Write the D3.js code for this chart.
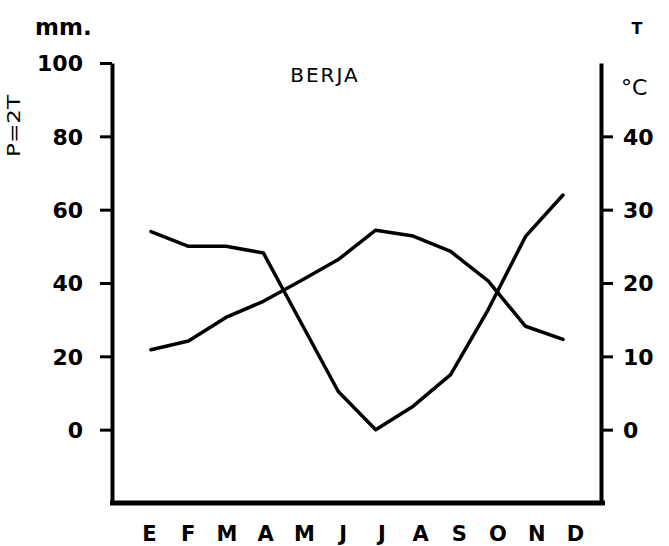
<!DOCTYPE html>
<html>
<head>
<meta charset="utf-8">
<script src="https://cdn.jsdelivr.net/npm/d3@7"></script>
<style>
  body { margin: 0; background: #fff; }
  text { font-family: "DejaVu Sans", sans-serif; fill: #000; }
</style>
</head>
<body>
<div id="chart"></div>
<script>
const months = ['E', 'F', 'M', 'A', 'M', 'J', 'J', 'A', 'S', 'O', 'N', 'D'];
// precipitation, mm (left axis)
const precip = [54, 50, 50, 48.2, 29.3, 10.4, 0, 6.4, 15, 32.7, 52.7, 64];
// temperature, degrees C (right axis, P = 2T)
const temp = [10.9, 12.1, 15.3, 17.5, 20.3, 23.2, 27.2, 26.4, 24.3, 20.3, 14.1, 12.3];

const leftTicks = [0, 20, 40, 60, 80, 100];
const rightTicks = [0, 10, 20, 30, 40];

const width = 669;
const height = 546;

const svg = d3.select('#chart')
  .append('svg')
  .attr('width', width)
  .attr('height', height);

const x = d3.scalePoint()
  .domain(d3.range(months.length))
  .range([151, 563]);

// month letters sit a bit wider than the data points
const xLabel = d3.scalePoint()
  .domain(d3.range(months.length))
  .range([149, 575]);

const yP = d3.scaleLinear().domain([-20, 100]).range([503, 63]);
const yT = d3.scaleLinear().domain([-10, 50]).range([503, 63]);

const left = 112;
const right = 601;

// left axis
const leftAxis = svg.append('g')
  .attr('transform', `translate(${left},0)`)
  .call(d3.axisLeft(yP).tickValues(leftTicks).tickSize(12).tickSizeOuter(0).tickPadding(17));

// right axis
const rightAxis = svg.append('g')
  .attr('transform', `translate(${right},0)`)
  .call(d3.axisRight(yT).tickValues(rightTicks).tickSize(12).tickSizeOuter(0).tickPadding(10));

[leftAxis, rightAxis].forEach(g => {
  g.select('.domain').attr('stroke', '#000').attr('stroke-width', 4);
  g.selectAll('.tick line').attr('stroke', '#000').attr('stroke-width', 3);
  g.selectAll('.tick text')
    .style('font-size', '22px')
    .style('font-weight', 'bold')
    .attr('dy', '0.36em');
});

// bottom baseline
svg.append('line')
  .attr('x1', left - 2)
  .attr('x2', right + 4)
  .attr('y1', yP(-20))
  .attr('y2', yP(-20))
  .attr('stroke', '#000')
  .attr('stroke-width', 5);

// month letters
svg.append('g')
  .attr('transform', 'translate(0,541)')
  .call(d3.axisBottom(xLabel).tickSize(0).tickPadding(0).tickFormat(i => months[i]))
  .call(g => g.select('.domain').remove())
  .selectAll('text')
  .attr('dy', null)
  .style('font-size', '21px')
  .style('font-weight', 'bold');

// precipitation line
svg.append('path')
  .datum(precip)
  .attr('fill', 'none')
  .attr('stroke', '#000')
  .attr('stroke-width', 3.5)
  .attr('stroke-linejoin', 'round')
  .attr('stroke-linecap', 'round')
  .attr('d', d3.line().x((d, i) => x(i)).y(d => yP(d)));

// temperature line
svg.append('path')
  .datum(temp)
  .attr('fill', 'none')
  .attr('stroke', '#000')
  .attr('stroke-width', 3.5)
  .attr('stroke-linejoin', 'round')
  .attr('stroke-linecap', 'round')
  .attr('d', d3.line().x((d, i) => x(i)).y(d => yT(d)));

// titles and units
svg.append('text')
  .attr('x', 35).attr('y', 35)
  .style('font-size', '23px').style('font-weight', 'bold')
  .text('mm.');

svg.append('text')
  .attr('transform', 'translate(20,126) rotate(-90)')
  .attr('text-anchor', 'middle')
  .attr('textLength', 62)
  .attr('lengthAdjust', 'spacingAndGlyphs')
  .style('font-size', '18px')
  .text('P=2T');

svg.append('text')
  .attr('x', 637).attr('y', 34)
  .attr('text-anchor', 'middle')
  .style('font-size', '16px').style('font-weight', 'bold')
  .text('T');

svg.append('text')
  .attr('x', 621).attr('y', 95)
  .style('font-size', '22px')
  .text('°C');

svg.append('text')
  .attr('x', 325).attr('y', 82)
  .attr('text-anchor', 'middle')
  .style('font-size', '20px')
  .style('letter-spacing', '2px')
  .text('BERJA');
</script>
</body>
</html>
